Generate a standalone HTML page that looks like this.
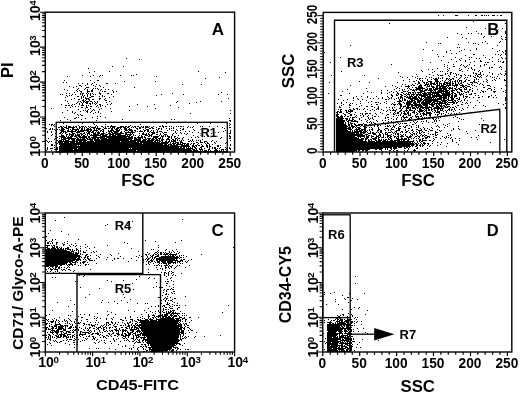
<!DOCTYPE html><html><head><meta charset="utf-8"><title>Flow cytometry</title><style>html,body{margin:0;padding:0;background:#fff}svg{display:block}</style></head><body><svg width="520" height="394" viewBox="0 0 520 394" font-family="'Liberation Sans', Arial, Helvetica, sans-serif" fill="#000" shape-rendering="auto"><path d="M438 15.5h1m4 0h1m11 0h3m10 0h1m6 0h2m4 0h2m1 0h1m1 0h1m1 0h1m3 0h3m2 0h1m2 0h2M477 20.5h1m13 0h1m13 0h1M473 21.5h1M389 23.5h1m115 0h1M493 25.5h1M466 27.5h1M485 28.5h1m16 0h1M498 29.5h1M476 31.5h1m28 0h1M505 32.5h1M457 33.5h1m10 0h1m2 0h1m6 0h1m2 0h1m23 0h1M461 34.5h1m19 0h1M484 36.5h1m6 0h1m9 0h1M447 37.5h1m14 0h1m20 0h1m21 0h1M466 38.5h1m34 0h1M502 39.5h1m2 0h1M485 41.5h1m14 0h1M426 42.5h1m41 0h1m13 0h1m16 0h1M438 43.5h1m1 0h1m32 0h1m1 0h1m11 0h1m18 0h1M458 44.5h1m19 0h1M350 45.5h1m146 0h1M457 47.5h1m1 0h1M476 48.5h1m15 0h1M423 49.5h1m40 0h1m11 0h1M432 50.5h1m17 0h1m10 0h1m8 0h1m28 0h1m5 0h1M446 51.5h1m12 0h1m37 0h1m4 0h1m2 0h1M324 52.5h1m121 0h1m56 0h1M451 53.5h1m4 0h1m48 0h1M437 54.5h1m35 0h2m20 0h1m2 0h1m2 0h1m3 0h1M465 55.5h1m17 0h1m16 0h1M438 56.5h1m4 0h1M340 57.5h1m114 0h1m13 0h1m1 0h1m13 0h1m6 0h1m8 0h1M126 58.5h1m334 0h1m14 0h1m2 0h1m22 0h1m2 0h1M139 59.5h1m311 0h1m7 0h1m9 0h1m19 0h1m8 0h1M422 60.5h1m18 0h1m18 0h1m4 0h1m14 0h1M456 61.5h1m8 0h1m8 0h1m5 0h2m10 0h1m5 0h1m1 0h1m2 0h1M330 62.5h1m99 0h1m17 0h1m21 0h1m14 0h1m1 0h2m13 0h2M506 63.5h1M391 64.5h1m52 0h1m8 0h1m7 0h1m7 0h1m14 0h1m1 0h1m7 0h1M447 65.5h1m12 0h1m2 0h1m3 0h1m6 0h1m5 0h1m3 0h1M112 66.5h1m10 0h1m320 0h1m8 0h2m9 0h1m1 0h1m13 0h1m19 0h1M447 67.5h1m17 0h1m5 0h1m17 0h1m1 0h2m6 0h1m1 0h1M88 68.5h1m348 0h1m11 0h1m9 0h1m8 0h1m2 0h1m17 0h1M428 69.5h1m3 0h1m14 0h1m13 0h1m10 0h1m1 0h1m26 0h1M421 70.5h1m26 0h1m10 0h2m6 0h1m6 0h1m4 0h1M94 71.5h1m14 0h1m88 0h1m142 0h1m80 0h1m11 0h1m5 0h1m1 0h1m4 0h1m14 0h1m15 0h1m3 0h1m22 0h1M89 72.5h1m135 0h1m172 0h1m33 0h1m17 0h2m21 0h1m6 0h1m8 0h1M445 73.5h1m1 0h1m2 0h1m2 0h1m1 0h1m17 0h1m1 0h2m3 0h1m11 0h1m7 0h1m4 0h2M136 74.5h1m279 0h1m12 0h1m7 0h1m7 0h1m4 0h1m5 0h1m1 0h1m5 0h1m11 0h1m1 0h3m2 0h1m8 0h1m5 0h1m2 0h1m3 0h1M82 75.5h1m10 0h1m6 0h1m1 0h1m17 0h1m10 0h1m1 0h1m197 0h1m32 0h1m68 0h1m4 0h1m1 0h3m5 0h1m7 0h1m3 0h2m3 0h1m2 0h1m1 0h1m4 0h1m1 0h1m3 0h1m5 0h1m16 0h1M67 76.5h1m22 0h1m8 0h1m56 0h1m243 0h1m11 0h1m4 0h1m8 0h1m22 0h1m4 0h1m6 0h1m8 0h1m2 0h1m3 0h2m1 0h1m5 0h1m3 0h1m6 0h1M219 77.5h1m182 0h1m4 0h1m7 0h1m13 0h1m1 0h1m6 0h1m3 0h1m13 0h1m3 0h1m4 0h1m1 0h1m6 0h2m3 0h1m1 0h1m10 0h1m1 0h1M205 78.5h1m172 0h1m38 0h1m1 0h2m1 0h1m2 0h1m7 0h1m1 0h2m1 0h1m1 0h1m1 0h1m3 0h2m1 0h1m2 0h2m5 0h1m4 0h1m11 0h1m19 0h1m2 0h1M409 79.5h1m9 0h1m7 0h1m3 0h1m2 0h4m8 0h1m1 0h1m1 0h2m1 0h1m4 0h1m7 0h1m7 0h1m1 0h1m1 0h1m7 0h1m7 0h1m9 0h1M64 80.5h1m25 0h1m6 0h2m304 0h1m12 0h1m3 0h1m1 0h1m4 0h1m7 0h3m4 0h1m2 0h1m3 0h2m4 0h1m1 0h1m1 0h3m3 0h1m2 0h2m4 0h1m12 0h1m4 0h1m2 0h1m8 0h2M124 81.5h1m30 0h1m203 0h1m49 0h1m3 0h2m3 0h1m3 0h1m5 0h4m3 0h4m1 0h1m3 0h1m3 0h1m1 0h1m1 0h1m1 0h2m1 0h1m1 0h1m1 0h1m2 0h2m7 0h2m3 0h1m4 0h1m2 0h1M63 82.5h1m2 0h1m27 0h1m234 0h1m39 0h1m27 0h1m20 0h2m3 0h2m1 0h2m2 0h2m2 0h1m1 0h2m1 0h1m4 0h4m1 0h2m1 0h1m2 0h1m2 0h1m2 0h1m1 0h1m6 0h3m1 0h3m10 0h1M78 83.5h1m3 0h1m4 0h1m4 0h1m13 0h2m7 0h1m299 0h1m2 0h2m4 0h1m1 0h1m1 0h1m1 0h5m1 0h2m1 0h3m1 0h2m1 0h5m1 0h2m1 0h1m2 0h1m1 0h2m5 0h1m4 0h1m4 0h1m2 0h1M87 84.5h1m3 0h1m4 0h1m85 0h1m18 0h1m200 0h1m2 0h1m6 0h1m4 0h1m2 0h1m4 0h4m1 0h2m1 0h3m1 0h1m1 0h1m1 0h1m1 0h3m1 0h1m1 0h2m1 0h1m2 0h3m1 0h1m2 0h1m5 0h2m1 0h1m7 0h1m2 0h1M79 85.5h2m4 0h1m7 0h1m5 0h1m250 0h1m41 0h1m15 0h1m2 0h1m1 0h2m4 0h3m2 0h2m1 0h1m1 0h1m1 0h1m4 0h4m1 0h3m2 0h5m1 0h6m2 0h4m1 0h2m5 0h1m1 0h1m8 0h1m3 0h3m15 0h1M69 86.5h1m6 0h1m4 0h1m13 0h1m4 0h1m284 0h1m9 0h1m5 0h1m3 0h5m8 0h4m5 0h3m1 0h3m2 0h2m1 0h8m1 0h1m5 0h1m1 0h1m5 0h3m2 0h3m6 0h1m13 0h1M73 87.5h1m12 0h3m14 0h1m30 0h1m262 0h1m10 0h1m3 0h1m2 0h2m1 0h5m3 0h1m5 0h3m1 0h2m1 0h2m1 0h4m1 0h1m1 0h2m1 0h1m3 0h1m3 0h2m1 0h1m1 0h2m3 0h1m12 0h2m9 0h1M78 88.5h1m6 0h1m7 0h1m1 0h1m1 0h1m268 0h1m29 0h1m2 0h1m7 0h1m1 0h1m6 0h9m2 0h1m1 0h3m1 0h1m1 0h12m1 0h5m1 0h2m2 0h2m4 0h1m1 0h1m5 0h1m15 0h3m10 0h1M64 89.5h1m12 0h1m6 0h1m2 0h1m4 0h1m5 0h1m2 0h1m3 0h1m2 0h1m238 0h1m46 0h1m7 0h1m1 0h1m5 0h2m1 0h1m1 0h6m1 0h1m2 0h3m1 0h3m1 0h5m1 0h3m1 0h4m2 0h1m2 0h1m2 0h3m1 0h3m2 0h3m2 0h2m6 0h1m9 0h1m3 0h1m2 0h1M67 90.5h1m8 0h1m2 0h1m7 0h1m3 0h2m7 0h1m11 0h1m268 0h1m5 0h1m11 0h1m2 0h1m5 0h1m3 0h3m1 0h1m2 0h4m1 0h3m1 0h5m1 0h2m2 0h6m1 0h4m2 0h4m1 0h1m3 0h2m7 0h1m2 0h1m8 0h1m9 0h1m13 0h1M77 91.5h1m2 0h2m5 0h3m1 0h2m9 0h1m1 0h2m7 0h1m2 0h1m225 0h1m24 0h1m23 0h1m4 0h1m6 0h3m1 0h1m6 0h1m5 0h5m5 0h2m1 0h1m1 0h1m1 0h11m1 0h1m1 0h2m4 0h1m3 0h2m1 0h1m2 0h2m3 0h1m9 0h2m1 0h1m7 0h3m7 0h1M74 92.5h1m6 0h1m5 0h1m11 0h1m13 0h1m107 0h1m149 0h1m9 0h1m7 0h1m3 0h1m3 0h1m3 0h2m5 0h3m1 0h2m1 0h1m1 0h5m2 0h2m1 0h15m1 0h1m1 0h5m2 0h2m3 0h3m5 0h2m1 0h1m11 0h1m2 0h1m10 0h1m10 0h1M66 93.5h1m2 0h1m10 0h1m1 0h2m2 0h1m1 0h1m1 0h1m1 0h1m6 0h2m6 0h2m63 0h1m155 0h1m20 0h1m13 0h1m17 0h1m5 0h1m9 0h2m4 0h1m2 0h1m1 0h1m1 0h1m2 0h1m1 0h1m2 0h1m1 0h1m1 0h5m1 0h3m1 0h7m2 0h9m1 0h2m1 0h2m3 0h1m1 0h1m1 0h1m7 0h1m2 0h2M60 94.5h1m1 0h1m9 0h1m2 0h1m4 0h1m1 0h1m4 0h1m2 0h1m2 0h1m1 0h1m4 0h1m10 0h1m49 0h1m21 0h1m34 0h1m8 0h1m163 0h1m4 0h1m1 0h1m1 0h2m2 0h2m1 0h3m1 0h4m1 0h6m1 0h10m1 0h1m1 0h4m2 0h9m1 0h1m2 0h2m2 0h4m3 0h1m2 0h3M66 95.5h1m2 0h1m1 0h1m10 0h1m1 0h1m2 0h1m2 0h1m11 0h1m53 0h1m183 0h2m49 0h2m3 0h2m3 0h2m3 0h1m2 0h1m1 0h1m1 0h1m2 0h2m1 0h9m1 0h2m1 0h18m1 0h2m1 0h3m3 0h1m2 0h1m11 0h1m2 0h1m12 0h1m3 0h1M67 96.5h1m9 0h2m2 0h1m1 0h1m3 0h1m3 0h3m5 0h1m2 0h1m1 0h1m8 0h1m242 0h1m4 0h1m5 0h1m8 0h1m10 0h1m4 0h1m7 0h2m2 0h2m1 0h1m1 0h4m1 0h3m1 0h1m2 0h5m1 0h4m1 0h10m1 0h4m1 0h2m1 0h2m1 0h3m6 0h1m1 0h3m14 0h1m5 0h2M65 97.5h1m15 0h1m1 0h1m1 0h1m3 0h2m18 0h1m243 0h1m13 0h1m14 0h1m5 0h1m2 0h1m6 0h1m1 0h3m3 0h5m1 0h5m1 0h2m1 0h1m2 0h11m1 0h1m2 0h8m1 0h1m1 0h3m1 0h1m4 0h1m3 0h1m2 0h1m2 0h1m3 0h1m4 0h2m8 0h1m4 0h1m2 0h1m8 0h1M74 98.5h1m6 0h1m3 0h4m10 0h2m4 0h1m122 0h1m124 0h1m3 0h1m12 0h1m2 0h1m4 0h1m3 0h1m6 0h1m1 0h1m4 0h1m1 0h1m1 0h1m1 0h1m1 0h1m3 0h10m1 0h3m1 0h1m1 0h7m1 0h1m1 0h1m1 0h5m1 0h4m1 0h1m2 0h3m2 0h2m1 0h1m5 0h1m39 0h1M71 99.5h1m6 0h2m3 0h1m2 0h1m1 0h2m2 0h2m5 0h1m4 0h1m233 0h1m8 0h1m10 0h1m3 0h1m22 0h2m1 0h1m5 0h1m4 0h1m2 0h1m1 0h2m4 0h3m1 0h5m1 0h3m1 0h18m1 0h2m2 0h2m2 0h3m4 0h2m4 0h1m40 0h1M65 100.5h1m16 0h2m1 0h1m3 0h1m15 0h2m236 0h1m9 0h1m12 0h1m32 0h2m1 0h1m1 0h2m1 0h1m1 0h1m1 0h4m2 0h5m1 0h15m3 0h6m1 0h5m1 0h2m1 0h1m3 0h1m2 0h1m2 0h1m9 0h1m27 0h1M67 101.5h1m10 0h1m1 0h1m2 0h2m1 0h3m1 0h2m2 0h1m2 0h1m11 0h1m67 0h1m22 0h1m20 0h1m138 0h1m10 0h1m14 0h1m10 0h5m5 0h6m1 0h2m1 0h4m1 0h2m1 0h7m1 0h8m1 0h4m1 0h1m4 0h2m1 0h1m2 0h1m1 0h1M77 102.5h1m3 0h1m1 0h1m1 0h3m4 0h1m2 0h1m1 0h1m8 0h1m69 0h1m19 0h1m144 0h1m4 0h1m21 0h1m6 0h2m1 0h1m5 0h1m9 0h1m4 0h1m3 0h1m2 0h6m1 0h3m1 0h3m1 0h10m1 0h3m2 0h1m1 0h4m1 0h3m1 0h7m1 0h2m4 0h1m3 0h1m3 0h1m8 0h1M68 103.5h1m7 0h1m2 0h1m2 0h1m3 0h2m1 0h2m1 0h1m1 0h1m1 0h1m14 0h1m77 0h1m147 0h1m3 0h1m8 0h1m1 0h1m7 0h1m19 0h1m5 0h1m5 0h1m5 0h3m3 0h1m1 0h5m2 0h4m2 0h1m1 0h9m1 0h2m1 0h12m1 0h1m5 0h2m1 0h1m8 0h1m1 0h1m30 0h1m6 0h1M61 104.5h1m10 0h1m1 0h1m4 0h1m2 0h1m7 0h1m4 0h1m3 0h2m6 0h1m2 0h1m26 0h1m16 0h1m188 0h1m5 0h1m6 0h1m14 0h1m4 0h2m13 0h1m1 0h3m1 0h1m1 0h3m4 0h7m1 0h7m1 0h6m1 0h6m1 0h1m1 0h2m1 0h1m3 0h5m2 0h1m8 0h2m40 0h1M65 105.5h2m1 0h2m1 0h1m9 0h3m2 0h1m1 0h1m8 0h1m2 0h1m1 0h1m67 0h1m170 0h1m7 0h2m10 0h1m32 0h1m5 0h2m3 0h1m1 0h3m1 0h11m1 0h5m3 0h3m2 0h2m1 0h3m1 0h2m1 0h1m10 0h2m9 0h1m6 0h1m7 0h1M72 106.5h1m2 0h1m2 0h1m7 0h1m3 0h2m4 0h1m3 0h1m4 0h1m23 0h1m17 0h1m191 0h1m19 0h1m6 0h2m3 0h2m5 0h1m21 0h2m1 0h3m1 0h2m2 0h2m2 0h2m1 0h5m2 0h3m1 0h1m2 0h2m2 0h3m1 0h3m1 0h2m1 0h3m5 0h1m29 0h1M65 107.5h1m4 0h1m10 0h2m3 0h2m10 0h1m79 0h1m160 0h2m8 0h1m24 0h1m3 0h1m7 0h1m2 0h1m2 0h1m1 0h1m5 0h1m2 0h1m2 0h5m1 0h3m1 0h3m1 0h12m2 0h6m1 0h1m1 0h1m1 0h3m2 0h1m1 0h2m2 0h1m10 0h1m5 0h1m31 0h1M51 108.5h1m33 0h1m4 0h1m10 0h1m8 0h1m44 0h1m197 0h1m2 0h2m6 0h1m12 0h2m13 0h1m6 0h2m1 0h1m3 0h3m1 0h1m1 0h4m1 0h1m1 0h2m1 0h2m1 0h4m2 0h1m1 0h11m5 0h1m4 0h1m7 0h1m42 0h1M78 109.5h1m9 0h1m4 0h1m5 0h1m238 0h1m1 0h2m7 0h2m2 0h2m2 0h1m1 0h1m3 0h1m3 0h1m4 0h1m3 0h1m1 0h1m2 0h1m7 0h1m3 0h1m2 0h1m4 0h1m4 0h1m2 0h2m4 0h1m3 0h3m2 0h1m1 0h1m1 0h2m1 0h2m1 0h1m2 0h2m1 0h1m1 0h1m5 0h2m1 0h2m1 0h1m4 0h1m3 0h1M67 110.5h1m15 0h1m1 0h1m1 0h1m4 0h1m1 0h1m34 0h1m100 0h1m109 0h1m4 0h2m1 0h1m1 0h3m17 0h1m3 0h1m8 0h1m3 0h1m2 0h1m1 0h4m4 0h2m3 0h3m1 0h4m1 0h1m2 0h1m1 0h5m1 0h2m1 0h2m1 0h1m2 0h2m1 0h1m2 0h3m2 0h1m1 0h1m1 0h1m1 0h1m3 0h1m5 0h1m24 0h1M72 111.5h1m7 0h1m5 0h2m3 0h1m6 0h1m12 0h1m225 0h2m1 0h2m4 0h1m1 0h5m12 0h1m20 0h1m8 0h1m3 0h2m2 0h2m1 0h1m1 0h1m4 0h2m3 0h5m1 0h1m1 0h1m5 0h1m2 0h1m1 0h3m3 0h1m2 0h1m6 0h1M62 112.5h1m9 0h1m2 0h1m11 0h1m2 0h1m4 0h1m2 0h1m237 0h2m1 0h3m4 0h2m2 0h1m4 0h1m24 0h1m9 0h1m3 0h1m2 0h2m2 0h1m2 0h1m2 0h2m3 0h3m1 0h1m2 0h1m3 0h1m2 0h5m3 0h1m1 0h4m6 0h1m12 0h1m10 0h1M74 113.5h1m18 0h1m6 0h1m89 0h1m39 0h1m106 0h1m5 0h1m4 0h2m10 0h1m1 0h1m2 0h3m1 0h2m4 0h1m6 0h1m10 0h1m1 0h1m1 0h2m2 0h1m1 0h3m1 0h2m1 0h1m3 0h1m2 0h1m2 0h1m1 0h3m1 0h6m7 0h1m1 0h1m1 0h1m4 0h1m2 0h1m2 0h1m1 0h1M77 114.5h1m2 0h1m255 0h3m5 0h2m4 0h2m2 0h1m7 0h1m2 0h1m10 0h1m10 0h2m4 0h2m5 0h1m3 0h3m1 0h1m1 0h1m5 0h2m2 0h1m2 0h4m2 0h2m4 0h1m1 0h2m2 0h1m3 0h1m4 0h1m10 0h1M78 115.5h1m2 0h2m253 0h2m3 0h1m3 0h1m4 0h2m4 0h1m3 0h1m2 0h1m4 0h1m3 0h1m13 0h1m9 0h1m1 0h1m1 0h1m2 0h1m4 0h3m4 0h1m5 0h1m1 0h1m2 0h1m2 0h2m6 0h1m8 0h1m1 0h1M97 116.5h1m2 0h1m235 0h3m1 0h3m1 0h1m2 0h2m6 0h1m7 0h1m3 0h1m6 0h2m2 0h1m14 0h1m8 0h2m2 0h1m5 0h1m2 0h4m1 0h2m8 0h1m13 0h1m10 0h1M64 117.5h1m11 0h1m1 0h1m13 0h1m12 0h1m231 0h6m7 0h1m1 0h3m1 0h1m4 0h1m6 0h1m3 0h1m12 0h1m1 0h2m8 0h1m3 0h1m1 0h5m2 0h2m4 0h1m1 0h1m3 0h1m1 0h1m1 0h1m1 0h2m1 0h1m8 0h1m12 0h1m3 0h1M74 118.5h2m9 0h1m11 0h1m131 0h1m106 0h8m1 0h3m1 0h1m2 0h1m6 0h1m8 0h1m1 0h1m1 0h1m12 0h1m5 0h1m4 0h1m4 0h1m2 0h1m4 0h1m1 0h1m5 0h3m1 0h1m7 0h1m2 0h2m2 0h1m1 0h1m20 0h1m21 0h1M67 119.5h1m13 0h1m40 0h1m48 0h1m2 0h1m161 0h7m3 0h2m1 0h1m2 0h2m5 0h1m5 0h1m3 0h1m3 0h1m14 0h1m4 0h1m2 0h1m4 0h1m1 0h1m1 0h1m2 0h3m4 0h1m2 0h1m2 0h2m10 0h1m1 0h1m25 0h1m1 0h1M60 120.5h1m9 0h1m25 0h1m132 0h2m105 0h9m1 0h1m1 0h5m1 0h2m5 0h1m5 0h1m8 0h1m5 0h1m2 0h1m16 0h1m5 0h1m2 0h1m3 0h1m10 0h1m7 0h1m1 0h1m2 0h1m43 0h1M230 121.5h1m105 0h9m2 0h2m2 0h7m8 0h1m3 0h1m6 0h1m10 0h1m2 0h1m4 0h1m1 0h1m4 0h1m9 0h1m3 0h1m3 0h1m1 0h1m2 0h1m7 0h1m1 0h1m21 0h1M65 122.5h1m6 0h1m263 0h8m1 0h1m2 0h1m1 0h1m6 0h1m9 0h1m1 0h1m1 0h1m1 0h1m9 0h1m9 0h1m1 0h1m1 0h1m12 0h1m3 0h1m1 0h1m11 0h1m3 0h1M63 123.5h1m18 0h1m10 0h1m72 0h1m30 0h1m12 0h1m18 0h1m106 0h8m1 0h1m2 0h1m1 0h3m1 0h1m8 0h1m7 0h1m2 0h2m5 0h2m4 0h2m4 0h1m4 0h1m1 0h1m1 0h1m1 0h3m8 0h1m6 0h1m12 0h1m13 0h1M49 124.5h1m1 0h2m1 0h1m39 0h1m10 0h1m34 0h1m86 0h1m2 0h1m105 0h10m2 0h2m1 0h1m2 0h2m2 0h5m1 0h3m2 0h2m1 0h1m1 0h1m10 0h1m10 0h1m2 0h1m12 0h2m29 0h1m3 0h1m31 0h1M51 125.5h1m1 0h1m12 0h1m11 0h1m17 0h1m14 0h1m18 0h1m31 0h1m66 0h1m106 0h11m1 0h2m1 0h2m2 0h5m1 0h2m1 0h1m3 0h1m2 0h1m2 0h1m2 0h2m1 0h1m6 0h1m1 0h1m3 0h1m1 0h1m10 0h2m1 0h1m6 0h1m1 0h1m18 0h1m7 0h1M54 126.5h1m5 0h2m1 0h1m2 0h1m1 0h3m2 0h1m1 0h2m2 0h1m1 0h3m1 0h1m2 0h1m1 0h1m4 0h1m1 0h1m3 0h2m2 0h1m1 0h2m1 0h6m4 0h4m1 0h2m1 0h2m2 0h1m1 0h2m1 0h2m2 0h1m1 0h1m1 0h3m1 0h1m3 0h1m5 0h2m1 0h2m1 0h2m2 0h1m1 0h1m4 0h1m1 0h1m1 0h2m1 0h1m4 0h1m4 0h1m6 0h1m1 0h1m6 0h1m7 0h1m118 0h12m1 0h1m1 0h4m1 0h1m3 0h1m2 0h3m8 0h1m2 0h1m7 0h1m1 0h2m1 0h1m2 0h2m4 0h2m2 0h1m1 0h1m5 0h1m6 0h1m17 0h1m1 0h1m8 0h1m10 0h1M58 127.5h2m1 0h2m1 0h3m1 0h7m1 0h1m2 0h2m1 0h1m1 0h1m1 0h1m2 0h1m1 0h5m1 0h1m5 0h1m1 0h1m4 0h1m1 0h3m2 0h5m1 0h3m1 0h2m2 0h1m1 0h1m1 0h1m3 0h2m1 0h2m1 0h4m2 0h2m3 0h1m6 0h1m9 0h1m13 0h1m2 0h1m1 0h1m9 0h1m19 0h1m6 0h2m105 0h11m1 0h3m1 0h2m1 0h1m1 0h3m4 0h3m2 0h1m1 0h1m6 0h1m13 0h1m1 0h1m3 0h1m5 0h2m5 0h1m4 0h1m1 0h1m4 0h1m7 0h1m7 0h1m4 0h1M46 128.5h1m3 0h1m1 0h1m3 0h1m4 0h3m2 0h3m3 0h2m3 0h1m1 0h1m1 0h2m1 0h1m2 0h2m1 0h1m2 0h2m1 0h5m3 0h3m1 0h2m1 0h2m1 0h1m1 0h3m1 0h1m3 0h3m2 0h1m6 0h2m1 0h2m4 0h1m3 0h2m1 0h2m4 0h2m1 0h1m4 0h1m2 0h1m1 0h1m1 0h1m6 0h1m2 0h1m40 0h1m111 0h15m1 0h1m3 0h1m1 0h3m3 0h2m6 0h1m5 0h1m6 0h3m3 0h1m4 0h1m1 0h3m7 0h2m10 0h1m3 0h1m2 0h1m4 0h1m20 0h1m4 0h1M49 129.5h2m1 0h1m1 0h1m2 0h1m1 0h1m1 0h4m3 0h1m1 0h1m1 0h7m2 0h2m1 0h1m1 0h6m2 0h1m1 0h1m1 0h2m2 0h2m7 0h2m2 0h3m1 0h1m1 0h1m2 0h3m1 0h4m5 0h1m5 0h1m2 0h3m7 0h1m1 0h1m2 0h1m7 0h1m6 0h1m5 0h2m9 0h1m6 0h1m9 0h1m125 0h11m1 0h4m3 0h5m1 0h5m3 0h1m1 0h2m5 0h2m4 0h1m3 0h1m2 0h3m4 0h2m5 0h1m6 0h1m3 0h2m3 0h1m2 0h1m4 0h1m7 0h1m15 0h1m5 0h1M55 130.5h1m4 0h4m3 0h2m2 0h2m2 0h2m1 0h1m1 0h9m1 0h2m1 0h5m2 0h2m1 0h1m4 0h1m1 0h4m2 0h4m5 0h3m1 0h4m1 0h2m4 0h1m3 0h2m1 0h2m2 0h1m1 0h1m3 0h1m9 0h1m3 0h1m1 0h1m3 0h1m2 0h1m13 0h1m11 0h1m2 0h1m4 0h1m10 0h1m4 0h1m105 0h12m2 0h1m1 0h1m1 0h1m1 0h2m1 0h4m1 0h2m1 0h1m1 0h1m2 0h1m4 0h2m1 0h2m3 0h1m2 0h1m1 0h1m5 0h4m5 0h1m2 0h1m2 0h2m5 0h4m3 0h2m3 0h3m6 0h1m1 0h1m9 0h1m23 0h1M47 131.5h1m3 0h1m4 0h1m4 0h5m1 0h9m1 0h7m3 0h4m1 0h2m2 0h1m1 0h1m1 0h1m1 0h2m4 0h4m1 0h6m2 0h1m2 0h1m3 0h1m2 0h2m2 0h1m1 0h1m1 0h4m1 0h1m2 0h2m1 0h1m2 0h1m3 0h1m1 0h3m13 0h1m9 0h1m3 0h1m24 0h1m8 0h1m6 0h1m105 0h15m1 0h1m1 0h8m1 0h4m3 0h1m6 0h1m2 0h2m9 0h1m3 0h2m4 0h2m3 0h2m5 0h1m2 0h1m2 0h1m2 0h1m5 0h1m6 0h1m4 0h1m25 0h1M47 132.5h1m3 0h1m8 0h2m1 0h1m1 0h2m4 0h2m3 0h4m4 0h1m1 0h1m1 0h2m1 0h3m1 0h1m1 0h3m3 0h1m2 0h1m2 0h1m1 0h2m1 0h4m2 0h2m3 0h10m8 0h1m5 0h1m1 0h4m1 0h2m4 0h1m1 0h3m8 0h1m4 0h1m11 0h1m5 0h1m7 0h1m8 0h1m2 0h1m11 0h1m105 0h23m1 0h6m1 0h1m2 0h1m1 0h2m2 0h1m1 0h1m1 0h2m3 0h2m1 0h3m1 0h1m1 0h1m1 0h1m3 0h1m1 0h1m2 0h2m2 0h1m2 0h1m4 0h1m1 0h1m1 0h1m1 0h2m10 0h3M55 133.5h2m2 0h2m1 0h1m2 0h1m3 0h1m2 0h3m2 0h1m2 0h2m1 0h2m2 0h3m3 0h3m1 0h3m1 0h4m3 0h3m1 0h12m1 0h2m3 0h1m1 0h1m6 0h1m2 0h2m2 0h1m1 0h1m3 0h3m5 0h1m2 0h1m9 0h1m2 0h1m4 0h1m2 0h1m2 0h1m12 0h1m10 0h1m2 0h1m14 0h2m105 0h19m1 0h3m1 0h2m1 0h2m3 0h3m1 0h4m3 0h1m2 0h1m2 0h1m1 0h1m5 0h1m1 0h1m1 0h2m11 0h1m2 0h2m1 0h1m2 0h2m7 0h1m6 0h1m11 0h1m19 0h1M52 134.5h1m8 0h1m4 0h2m1 0h5m1 0h1m1 0h3m1 0h2m2 0h1m1 0h1m1 0h1m1 0h1m1 0h6m1 0h4m1 0h3m1 0h5m1 0h6m4 0h7m1 0h1m8 0h5m1 0h2m1 0h2m3 0h2m2 0h1m3 0h3m5 0h1m13 0h1m149 0h27m2 0h3m5 0h3m3 0h2m2 0h1m1 0h3m3 0h1m3 0h1m1 0h2m1 0h1m2 0h1m1 0h1m5 0h2m1 0h1m1 0h1m4 0h1m2 0h1m5 0h1m1 0h2m1 0h1m1 0h1m12 0h1M51 135.5h1m9 0h3m2 0h1m2 0h1m1 0h3m1 0h5m1 0h1m1 0h2m2 0h1m2 0h11m1 0h5m2 0h2m1 0h4m1 0h9m1 0h1m1 0h2m2 0h1m1 0h1m3 0h1m1 0h1m3 0h3m1 0h3m7 0h1m1 0h1m1 0h1m1 0h1m1 0h1m4 0h1m5 0h1m14 0h1m6 0h2m8 0h1m5 0h1m12 0h1m106 0h29m1 0h1m1 0h2m1 0h1m4 0h1m1 0h3m2 0h1m3 0h4m2 0h1m4 0h1m2 0h2m2 0h1m4 0h1m1 0h1m4 0h1m2 0h1m1 0h2m1 0h2m8 0h2m11 0h1m1 0h1m27 0h1M55 136.5h1m3 0h6m1 0h1m1 0h1m1 0h3m1 0h3m1 0h3m1 0h5m1 0h2m3 0h4m3 0h30m1 0h2m5 0h1m2 0h2m1 0h1m3 0h2m1 0h1m1 0h6m2 0h3m1 0h1m1 0h3m1 0h1m2 0h2m21 0h1m5 0h2m4 0h1m7 0h1m11 0h2m105 0h19m2 0h8m1 0h3m2 0h3m2 0h3m1 0h1m2 0h1m3 0h2m1 0h2m2 0h2m1 0h2m1 0h4m2 0h2m1 0h3m3 0h2m1 0h2m2 0h1m1 0h1m2 0h3m3 0h1m8 0h1m3 0h1M57 137.5h1m3 0h5m1 0h5m4 0h2m1 0h8m1 0h2m1 0h14m1 0h21m1 0h5m1 0h2m1 0h6m1 0h2m7 0h5m2 0h1m1 0h1m5 0h2m1 0h1m2 0h1m2 0h1m5 0h1m7 0h1m3 0h1m2 0h1m3 0h1m7 0h1m10 0h1m8 0h1m105 0h21m1 0h1m1 0h1m3 0h1m1 0h3m2 0h1m3 0h2m1 0h2m1 0h3m1 0h1m1 0h1m1 0h2m3 0h1m1 0h1m1 0h1m2 0h1m5 0h4m3 0h1m4 0h1m5 0h3m1 0h1m5 0h2m7 0h1m1 0h1m1 0h1m2 0h1m19 0h1m4 0h1M48 138.5h1m6 0h1m3 0h1m1 0h1m1 0h13m1 0h2m1 0h1m1 0h3m1 0h2m1 0h2m1 0h4m1 0h2m1 0h7m1 0h25m1 0h3m1 0h3m1 0h1m2 0h1m1 0h4m1 0h2m1 0h2m1 0h3m1 0h1m4 0h2m2 0h1m3 0h2m1 0h2m2 0h1m37 0h1m8 0h2m105 0h23m2 0h3m1 0h3m4 0h5m1 0h1m9 0h1m1 0h2m4 0h3m2 0h2m1 0h3m1 0h1m2 0h1m1 0h1m2 0h1m1 0h1m3 0h2m1 0h2m6 0h1m6 0h1m4 0h1m4 0h1m4 0h1m3 0h1M54 139.5h1m6 0h5m2 0h2m1 0h4m1 0h10m1 0h6m1 0h6m1 0h31m2 0h7m2 0h4m1 0h2m1 0h4m1 0h2m1 0h1m1 0h3m2 0h4m2 0h2m1 0h1m1 0h1m4 0h1m5 0h1m3 0h1m9 0h1m133 0h28m1 0h2m1 0h1m1 0h2m1 0h3m2 0h2m1 0h1m1 0h1m1 0h2m1 0h2m1 0h1m5 0h10m1 0h2m9 0h2m1 0h1m11 0h1m17 0h1m24 0h1m26 0h1M46 140.5h1m10 0h1m1 0h3m1 0h1m1 0h4m3 0h3m1 0h11m3 0h3m1 0h35m1 0h11m1 0h4m1 0h7m1 0h5m1 0h2m3 0h1m2 0h1m1 0h1m1 0h3m1 0h1m1 0h1m1 0h1m1 0h1m6 0h1m1 0h1m3 0h1m1 0h1m1 0h1m11 0h1m17 0h1m105 0h27m2 0h1m2 0h2m1 0h1m3 0h2m1 0h4m1 0h3m1 0h1m2 0h3m1 0h6m1 0h1m1 0h2m2 0h2m4 0h1m2 0h1m2 0h2m1 0h5m2 0h2m2 0h1m18 0h1m6 0h1M47 141.5h1m1 0h1m1 0h1m6 0h20m1 0h3m1 0h3m1 0h7m1 0h25m1 0h15m1 0h16m1 0h2m1 0h1m1 0h2m1 0h1m2 0h2m1 0h2m1 0h5m4 0h2m6 0h2m1 0h1m1 0h1m6 0h1m3 0h3m4 0h1m4 0h1m119 0h31m1 0h7m1 0h5m1 0h14m1 0h17m3 0h1m1 0h1m1 0h2m9 0h1m19 0h1M48 142.5h1m6 0h1m2 0h5m1 0h5m1 0h5m1 0h63m1 0h20m1 0h8m1 0h1m2 0h1m1 0h4m1 0h3m13 0h2m2 0h3m1 0h1m2 0h1m6 0h1m11 0h1m109 0h75m1 0h1m1 0h1m2 0h1m2 0h1m2 0h2m12 0h1m3 0h1m14 0h1m33 0h1M57 143.5h1m1 0h83m1 0h25m2 0h1m1 0h4m1 0h2m1 0h1m1 0h4m1 0h2m2 0h1m1 0h2m3 0h1m6 0h1m1 0h2m6 0h1m9 0h1m110 0h78m1 0h2m1 0h1m2 0h1m1 0h3m1 0h2m3 0h1m14 0h1M51 144.5h2m3 0h1m2 0h104m1 0h3m1 0h4m1 0h2m1 0h7m1 0h1m1 0h3m1 0h1m2 0h1m3 0h1m3 0h1m4 0h1m2 0h1m2 0h1m17 0h1m105 0h79m1 0h2m2 0h1m1 0h1m1 0h1m3 0h1m11 0h1m17 0h1M51 145.5h2m1 0h1m5 0h17m1 0h1m1 0h89m1 0h8m3 0h8m3 0h2m1 0h2m1 0h2m2 0h1m3 0h2m1 0h1m7 0h2m1 0h1m9 0h1m105 0h74m1 0h3m2 0h2m1 0h2m1 0h2m3 0h1m2 0h1m6 0h1M59 146.5h131m2 0h3m1 0h1m4 0h3m2 0h2m1 0h2m6 0h2m117 0h75m1 0h1m2 0h2m3 0h1m1 0h1m6 0h1m16 0h1M47 147.5h1m6 0h1m2 0h1m1 0h120m1 0h2m1 0h2m1 0h1m1 0h1m1 0h1m1 0h1m1 0h2m4 0h2m5 0h1m1 0h1m2 0h1m1 0h2m4 0h1m4 0h1m3 0h1m106 0h56m1 0h4m1 0h4m2 0h1m1 0h2m1 0h1m7 0h1M47 148.5h1m2 0h3m3 0h2m1 0h18m1 0h51m1 0h1m1 0h53m1 0h7m2 0h2m2 0h1m1 0h1m2 0h1m4 0h1m2 0h1m1 0h2m1 0h1m1 0h1m6 0h1m2 0h2m105 0h47m2 0h1m1 0h1m2 0h2m1 0h4m7 0h2m2 0h1m7 0h2m9 0h1M47 149.5h1m6 0h4m1 0h14m1 0h117m1 0h3m1 0h1m2 0h4m5 0h2m5 0h2m4 0h3m1 0h1m1 0h1m2 0h1m105 0h34m5 0h2m2 0h3m3 0h1m1 0h1m3 0h1m2 0h1m13 0h1m5 0h1m10 0h1M46 150.5h1m4 0h1m7 0h77m1 0h55m1 0h5m2 0h1m1 0h1m1 0h3m1 0h1m1 0h1m3 0h4m1 0h1m1 0h1m1 0h1m2 0h1m109 0h21m1 0h2m2 0h2m1 0h3m13 0h1m7 0h2m2 0h1m2 0h2m6 0h1m2 0h1m5 0h3M59 151.5h143m1 0h5m2 0h4m1 0h3m1 0h2m1 0h1m1 0h2m110 0h19m1 0h1m1 0h1m7 0h1m9 0h1m5 0h1m11 0h1m3 0h1m8 0h1m6 0h1m12 0h1m1 0h1M64 217.5h1M182 219.5h1M55 220.5h1M132 221.5h1M107 224.5h1M105 225.5h1m21 0h1M50 230.5h1M61 231.5h1M48 233.5h1M68 234.5h1M46 236.5h1M52 239.5h1m2 0h1m22 0h1M46 240.5h1m5 0h1m92 0h1m35 0h1M49 241.5h1m1 0h1m15 0h1m87 0h1M47 242.5h2m3 0h1m3 0h2m6 0h1m59 0h1m50 0h1M47 243.5h2m1 0h1m1 0h1m3 0h1m5 0h1m4 0h1m7 0h1m51 0h1M56 244.5h1m6 0h2m6 0h1m13 0h1M46 245.5h4m1 0h1m1 0h2m8 0h1m5 0h1m3 0h1m2 0h1m30 0h1m50 0h1M47 246.5h1m4 0h1m1 0h1m1 0h2m12 0h1m4 0h1m4 0h1m6 0h1M46 247.5h2m4 0h3m1 0h2m1 0h1m1 0h1m5 0h2m16 0h1m8 0h1m63 0h1m74 0h1M47 248.5h3m1 0h5m1 0h2m1 0h2m1 0h1m1 0h4m7 0h1m3 0h1m8 0h1m41 0h1M46 249.5h18m1 0h1m1 0h4m1 0h1m3 0h2m73 0h1m1 0h1m12 0h1m9 0h1M46 250.5h21m3 0h1m1 0h1m1 0h1m1 0h1m1 0h1m1 0h1m5 0h1m71 0h1m6 0h1m6 0h1M46 251.5h24m1 0h3m4 0h1m1 0h1m2 0h1m9 0h1m2 0h1m41 0h1m18 0h1m11 0h1m3 0h1m3 0h1M46 252.5h26m1 0h1m1 0h2m1 0h1m4 0h3m5 0h1m2 0h1m52 0h1m7 0h2m1 0h1m1 0h2m1 0h1m1 0h1m3 0h1m1 0h1m2 0h1m4 0h1M46 253.5h28m1 0h4m1 0h1m37 0h1m30 0h1m4 0h1m2 0h1m2 0h2m2 0h1m1 0h3m1 0h1m5 0h1m1 0h1M46 254.5h32m2 0h1m1 0h1m3 0h2m12 0h1m9 0h1m31 0h1m2 0h2m1 0h1m4 0h1m1 0h2m1 0h1m1 0h2m1 0h5m1 0h8m24 0h1M46 255.5h34m5 0h2m3 0h1m5 0h1m14 0h1m27 0h1m6 0h1m3 0h1m1 0h2m3 0h2m6 0h1m2 0h1m1 0h1m1 0h2m1 0h1m3 0h1m1 0h1m1 0h1M46 256.5h35m4 0h1m1 0h2m9 0h1m21 0h1m15 0h1m4 0h1m5 0h1m3 0h2m2 0h4m2 0h14m1 0h2m1 0h1m6 0h1M46 257.5h31m1 0h2m1 0h1m2 0h2m1 0h1m11 0h1m7 0h1m30 0h1m8 0h1m2 0h1m1 0h1m1 0h2m3 0h20m1 0h2m1 0h1M46 258.5h30m1 0h3m4 0h1m2 0h2m1 0h1m5 0h1m17 0h1m2 0h2m4 0h1m7 0h1m14 0h1m1 0h2m2 0h1m1 0h1m1 0h22m1 0h1M46 259.5h35m2 0h1m1 0h1m2 0h2m16 0h1m7 0h1m28 0h1m1 0h1m1 0h2m2 0h1m1 0h1m2 0h19m1 0h1m4 0h1m1 0h2m6 0h1M46 260.5h29m1 0h3m1 0h1m5 0h1m2 0h4m1 0h1m17 0h1m23 0h1m6 0h1m3 0h1m2 0h3m3 0h2m1 0h19m2 0h3m5 0h1M46 261.5h27m2 0h2m6 0h3m42 0h1m13 0h1m3 0h1m1 0h2m1 0h2m1 0h1m2 0h3m1 0h5m1 0h6m2 0h1m1 0h4m1 0h1m2 0h1m1 0h1M46 262.5h22m1 0h2m1 0h4m1 0h1m2 0h1m1 0h3m2 0h1m55 0h1m4 0h1m1 0h1m4 0h1m1 0h3m2 0h4m1 0h9m1 0h1m1 0h1m6 0h1M46 263.5h21m3 0h2m3 0h1m4 0h1m2 0h1m12 0h1m51 0h1m4 0h1m5 0h1m1 0h1m1 0h4m1 0h3m2 0h1m1 0h1m4 0h1m1 0h1M46 264.5h19m1 0h1m1 0h5m1 0h2m9 0h2m1 0h1m57 0h1m2 0h1m8 0h1m7 0h1m1 0h1M46 265.5h12m2 0h2m5 0h1m1 0h1m2 0h1m5 0h1m1 0h1m4 0h1m68 0h1m1 0h2m1 0h1m1 0h1m2 0h4m1 0h1m2 0h1m4 0h1m1 0h1m9 0h1M46 266.5h3m1 0h4m1 0h3m1 0h1m8 0h1m92 0h1m3 0h1m2 0h1m1 0h2m4 0h1M49 267.5h1m2 0h1m2 0h2m1 0h2m1 0h1m2 0h1m2 0h1m1 0h1m86 0h1m8 0h2m1 0h1m2 0h1m3 0h1m9 0h1M48 268.5h1m1 0h1m2 0h1m1 0h1m2 0h2m6 0h1m93 0h1m1 0h1m2 0h1m3 0h1m4 0h1M46 269.5h1m3 0h3m1 0h4m3 0h1m1 0h2m3 0h2m20 0h1m57 0h1m8 0h1m4 0h1M51 270.5h1m5 0h1m4 0h1m2 0h1m4 0h1m3 0h1m90 0h1M47 271.5h1m2 0h1m4 0h1m1 0h1m15 0h1m95 0h1m1 0h1M53 272.5h1m5 0h1m88 0h1m12 0h1m2 0h2m2 0h1m3 0h2M56 273.5h1m107 0h1m1 0h1m1 0h1m2 0h1m9 0h1M160 274.5h1m3 0h1m3 0h1m4 0h1M79 275.5h1m4 0h1m79 0h1m3 0h1m3 0h1m2 0h1M83 276.5h1m55 0h1m26 0h1m188 0h1M52 277.5h1m2 0h1m93 0h1m21 0h1M148 278.5h1m5 0h1m15 0h1M136 279.5h1m30 0h1M107 280.5h1m15 0h1m47 0h1M75 281.5h1m35 0h1m53 0h1m1 0h2m4 0h1M156 282.5h1M132 283.5h1m33 0h2m187 0h1M123 284.5h1m49 0h1M166 285.5h1M127 286.5h1m28 0h1m3 0h1m8 0h1M80 287.5h1m72 0h1m5 0h1m1 0h2m10 0h1M99 288.5h1m21 0h1m49 0h1M133 289.5h1m30 0h1m2 0h2m1 0h1m1 0h2M160 290.5h1m2 0h1m2 0h1M166 291.5h1m6 0h2M163 292.5h1m7 0h1m152 0h1m9 0h1M166 293.5h1m5 0h1m1 0h1m155 0h1m18 0h1m14 0h1M89 294.5h1m33 0h1m41 0h2m1 0h1m155 0h1M162 295.5h1m179 0h1M167 296.5h1m17 0h1m137 0h1M85 297.5h1m38 0h1m33 0h2m5 0h1m4 0h1m176 0h2M164 298.5h1m1 0h2m6 0h2m168 0h1m7 0h1M130 299.5h1m32 0h1m2 0h1m5 0h1m162 0h1m9 0h1m11 0h1M70 300.5h1m31 0h1m18 0h1m39 0h1m3 0h1m2 0h1m1 0h2m179 0h1M114 301.5h1m50 0h1m6 0h1m162 0h1M57 302.5h1m43 0h1m6 0h1m18 0h1m39 0h1m6 0h1m173 0h1M117 303.5h1m19 0h1m7 0h1m1 0h1m13 0h1m5 0h1m1 0h1m7 0h1M74 304.5h1m91 0h3m3 0h1m153 0h1m11 0h1M158 305.5h1m4 0h2m4 0h1m4 0h1m1 0h2m1 0h1m5 0h1m42 0h1m121 0h1M68 306.5h1m82 0h1m3 0h1m2 0h1m3 0h1m1 0h1m5 0h1m1 0h1M165 307.5h2m2 0h1m8 0h2m170 0h1m3 0h1m4 0h1M148 308.5h1m14 0h1m6 0h3m4 0h1m180 0h1M163 309.5h1m1 0h2m1 0h1m8 0h1m164 0h1m8 0h1M52 310.5h1m75 0h1m15 0h1m13 0h1m4 0h1m6 0h1m1 0h3m192 0h1M72 311.5h1m34 0h1m26 0h1m15 0h1m4 0h1m2 0h1m3 0h1m3 0h1m1 0h1m1 0h2m1 0h1m6 0h1M111 312.5h1m34 0h1m5 0h1m6 0h2m2 0h2m1 0h1m1 0h3m1 0h2m1 0h1m46 0h1M97 313.5h1m57 0h1m10 0h4m1 0h9m2 0h1m1 0h1m163 0h1M49 314.5h1m30 0h1m3 0h1m4 0h1m18 0h1m6 0h1m25 0h1m6 0h1m4 0h1m8 0h1m1 0h4m2 0h2m1 0h1m3 0h1m164 0h2m7 0h1m13 0h1M46 315.5h1m21 0h1m1 0h1m18 0h1m17 0h1m40 0h1m3 0h3m3 0h5m1 0h4m2 0h3m1 0h3m1 0h1m3 0h1m1 0h1m1 0h1m150 0h1m2 0h1m2 0h1m8 0h1M78 316.5h1m15 0h1m35 0h1m11 0h1m5 0h2m4 0h1m1 0h4m2 0h5m1 0h2m1 0h1m1 0h4m2 0h1m158 0h2m7 0h1m4 0h1M59 317.5h1m21 0h2m14 0h1m15 0h1m11 0h1m4 0h1m6 0h1m2 0h1m7 0h1m3 0h2m1 0h1m2 0h1m1 0h1m1 0h2m1 0h6m1 0h2m5 0h3m2 0h1m4 0h2m7 0h1m124 0h1m1 0h1m5 0h1m1 0h1m10 0h1m2 0h1m1 0h1m5 0h1m1 0h1M54 318.5h1m13 0h1m25 0h1m1 0h1m3 0h1m5 0h1m4 0h1m13 0h1m16 0h1m1 0h1m3 0h1m1 0h1m2 0h1m2 0h1m3 0h14m1 0h5m2 0h3m151 0h2m1 0h2m6 0h1m6 0h1M46 319.5h1m1 0h1m3 0h1m3 0h1m7 0h1m4 0h1m5 0h1m1 0h1m8 0h2m18 0h1m5 0h1m7 0h2m8 0h3m4 0h2m1 0h1m4 0h3m1 0h4m3 0h4m1 0h14m1 0h3m1 0h1m1 0h1m2 0h2m141 0h1m6 0h1m1 0h2m1 0h3m1 0h1m2 0h5m4 0h1M47 320.5h1m5 0h1m2 0h1m1 0h1m5 0h1m1 0h1m3 0h1m5 0h1m4 0h1m14 0h1m25 0h2m2 0h1m5 0h1m1 0h1m3 0h11m1 0h7m1 0h23m4 0h1m5 0h1m132 0h1m6 0h1m1 0h2m2 0h1m1 0h4m2 0h5M48 321.5h1m1 0h4m1 0h1m3 0h1m2 0h1m2 0h1m1 0h1m3 0h1m2 0h1m12 0h1m23 0h1m18 0h1m1 0h1m2 0h2m3 0h39m1 0h1m1 0h1m2 0h1m144 0h1m5 0h4m1 0h2m1 0h5m2 0h2m1 0h1m2 0h1m3 0h1M51 322.5h2m2 0h1m2 0h1m8 0h1m6 0h1m3 0h1m1 0h1m9 0h1m4 0h1m2 0h1m7 0h3m2 0h2m2 0h1m2 0h1m3 0h1m4 0h1m1 0h2m6 0h1m1 0h39m1 0h1m9 0h1m134 0h1m2 0h5m3 0h1m1 0h1m1 0h6m1 0h3m2 0h2m3 0h1M46 323.5h2m1 0h1m5 0h1m3 0h1m5 0h1m1 0h1m1 0h1m5 0h1m1 0h3m3 0h2m21 0h1m1 0h1m3 0h1m2 0h1m8 0h1m2 0h2m3 0h1m2 0h2m4 0h38m1 0h1m2 0h1m1 0h2m142 0h2m1 0h2m1 0h1m1 0h9m1 0h2m1 0h2m2 0h1M46 324.5h1m4 0h1m3 0h6m9 0h1m1 0h1m11 0h1m1 0h1m1 0h2m1 0h1m3 0h1m1 0h1m6 0h1m1 0h1m2 0h2m3 0h1m2 0h1m7 0h1m2 0h1m2 0h1m3 0h1m1 0h1m1 0h38m1 0h4m2 0h1m1 0h1m140 0h24m10 0h1M49 325.5h1m4 0h3m3 0h3m1 0h4m4 0h1m4 0h1m5 0h1m5 0h1m1 0h4m6 0h1m1 0h1m2 0h1m1 0h1m4 0h1m6 0h2m1 0h1m1 0h1m2 0h2m1 0h1m1 0h2m1 0h46m2 0h1m2 0h2m138 0h15m1 0h2m1 0h7m1 0h1M49 326.5h1m1 0h2m1 0h3m1 0h6m1 0h1m1 0h1m2 0h2m3 0h1m16 0h1m1 0h1m5 0h1m1 0h1m2 0h1m8 0h3m10 0h3m2 0h1m1 0h2m2 0h2m1 0h41m3 0h1m141 0h13m1 0h2m1 0h1m1 0h3m1 0h1M46 327.5h2m4 0h2m2 0h1m1 0h5m2 0h1m3 0h3m1 0h1m1 0h2m2 0h1m5 0h1m3 0h2m5 0h1m1 0h3m2 0h2m1 0h1m2 0h2m1 0h1m2 0h1m5 0h2m2 0h2m2 0h1m1 0h2m1 0h4m1 0h40m1 0h3m1 0h1m2 0h2m138 0h14m1 0h2m2 0h6M46 328.5h1m1 0h1m2 0h3m1 0h2m1 0h6m1 0h1m2 0h3m5 0h2m3 0h1m3 0h1m1 0h1m1 0h1m3 0h2m2 0h2m2 0h1m1 0h1m2 0h1m2 0h1m6 0h1m2 0h1m6 0h2m1 0h1m1 0h1m2 0h1m1 0h3m1 0h42m1 0h2m4 0h1m137 0h24m6 0h1m5 0h1M46 329.5h1m1 0h3m1 0h1m4 0h5m1 0h3m7 0h1m1 0h2m1 0h1m4 0h1m4 0h1m7 0h1m1 0h1m4 0h2m9 0h3m2 0h1m2 0h2m1 0h1m4 0h7m1 0h1m2 0h41m2 0h1m5 0h1m136 0h16m1 0h2m1 0h5m1 0h1M51 330.5h4m1 0h3m4 0h3m4 0h1m1 0h1m1 0h2m2 0h1m5 0h1m2 0h2m1 0h1m3 0h1m4 0h1m3 0h1m2 0h1m2 0h1m1 0h2m2 0h4m1 0h1m1 0h5m3 0h4m3 0h3m1 0h39m1 0h3m4 0h1m2 0h2m134 0h15m2 0h3m1 0h1m1 0h2M50 331.5h1m1 0h1m1 0h5m1 0h3m3 0h4m3 0h1m6 0h2m7 0h1m1 0h1m2 0h1m4 0h1m4 0h2m1 0h1m2 0h1m1 0h1m3 0h1m1 0h1m3 0h2m1 0h1m1 0h1m4 0h2m2 0h5m1 0h38m1 0h3m144 0h9m1 0h5m1 0h4m1 0h3m1 0h1m4 0h1M47 332.5h1m2 0h4m1 0h4m2 0h1m1 0h1m2 0h1m1 0h3m1 0h2m3 0h1m2 0h1m1 0h7m1 0h1m6 0h1m2 0h1m1 0h1m10 0h1m4 0h1m3 0h1m4 0h2m1 0h3m2 0h1m1 0h1m1 0h1m1 0h1m1 0h41m5 0h1m6 0h1m130 0h9m3 0h3m3 0h1m2 0h3m14 0h1M52 333.5h1m3 0h2m3 0h1m2 0h3m13 0h1m4 0h1m2 0h2m2 0h2m1 0h4m9 0h2m2 0h2m2 0h3m3 0h1m1 0h2m2 0h3m2 0h3m4 0h40m1 0h3m1 0h1m137 0h1m3 0h16m1 0h8m15 0h1M48 334.5h2m3 0h1m3 0h1m1 0h6m2 0h4m3 0h1m4 0h7m5 0h2m4 0h2m1 0h1m8 0h1m1 0h1m5 0h3m1 0h2m2 0h2m1 0h3m1 0h1m2 0h1m1 0h4m1 0h39m2 0h1m143 0h11m1 0h1m2 0h1m4 0h5m10 0h1M46 335.5h1m2 0h2m4 0h2m1 0h1m1 0h2m1 0h3m1 0h1m4 0h2m2 0h2m1 0h1m2 0h1m6 0h1m9 0h1m2 0h1m3 0h2m2 0h1m3 0h2m2 0h1m2 0h3m1 0h5m3 0h1m1 0h4m1 0h1m1 0h37m1 0h1m2 0h1m36 0h1m106 0h10m2 0h1m1 0h7m1 0h1M48 336.5h1m1 0h1m1 0h1m3 0h3m1 0h2m1 0h4m1 0h1m1 0h1m1 0h1m1 0h1m5 0h1m5 0h1m1 0h2m2 0h2m9 0h2m3 0h1m2 0h1m5 0h1m5 0h3m2 0h1m4 0h1m2 0h1m1 0h2m4 0h1m1 0h33m1 0h1m1 0h1m2 0h1m2 0h1m6 0h1m8 0h1m122 0h9m1 0h1m1 0h5m1 0h1m1 0h3m1 0h2M46 337.5h1m1 0h1m1 0h1m1 0h1m1 0h1m2 0h4m2 0h1m2 0h3m1 0h1m1 0h1m3 0h2m5 0h1m9 0h1m1 0h1m4 0h1m2 0h1m1 0h1m16 0h1m2 0h1m2 0h1m4 0h1m2 0h3m1 0h6m1 0h32m1 0h1m3 0h1m1 0h1m7 0h1m132 0h5m1 0h5m1 0h10m1 0h1M48 338.5h1m1 0h1m5 0h1m9 0h1m7 0h1m10 0h1m1 0h1m5 0h2m11 0h1m6 0h1m4 0h1m4 0h2m1 0h1m4 0h3m2 0h1m4 0h1m1 0h2m2 0h31m2 0h1m1 0h2m1 0h1m139 0h1m1 0h14m1 0h1m1 0h8m1 0h1M47 339.5h1m1 0h2m16 0h1m1 0h3m3 0h1m2 0h1m7 0h1m5 0h1m1 0h1m2 0h1m15 0h1m2 0h1m10 0h1m5 0h1m1 0h1m1 0h1m1 0h1m3 0h36m1 0h2m145 0h14m1 0h2m1 0h7m1 0h1m8 0h1M50 340.5h1m2 0h1m1 0h1m7 0h1m2 0h1m6 0h2m7 0h1m1 0h1m11 0h1m4 0h1m2 0h1m9 0h1m9 0h1m1 0h1m1 0h1m5 0h1m3 0h2m2 0h2m1 0h35m1 0h1m145 0h11m2 0h9m1 0h2m26 0h1M54 341.5h1m1 0h1m3 0h2m6 0h1m11 0h1m18 0h1m10 0h1m3 0h1m5 0h1m8 0h1m2 0h2m2 0h1m2 0h1m2 0h1m2 0h1m1 0h32m145 0h1m2 0h14m1 0h1m1 0h1m1 0h5m1 0h3M49 342.5h1m7 0h1m1 0h1m13 0h2m2 0h1m16 0h1m3 0h1m5 0h1m30 0h1m1 0h4m2 0h1m2 0h32m148 0h5m1 0h7m1 0h4m1 0h1m1 0h1m1 0h3m7 0h1M50 343.5h1m14 0h1m29 0h1m9 0h1m5 0h1m22 0h1m12 0h33m4 0h1m140 0h1m1 0h11m1 0h13M47 344.5h1m21 0h1m4 0h1m2 0h1m40 0h1m22 0h2m1 0h2m2 0h1m1 0h25m1 0h1m2 0h2m146 0h11m3 0h2m2 0h3m1 0h1m2 0h1m4 0h1M51 345.5h1m73 0h1m7 0h1m11 0h1m2 0h1m1 0h26m6 0h1m144 0h3m1 0h12m1 0h1m2 0h5M122 346.5h1m2 0h1m14 0h2m1 0h1m1 0h2m4 0h23m153 0h11m1 0h1m1 0h6m2 0h1m1 0h2M74 347.5h1m58 0h1m4 0h1m3 0h1m3 0h1m1 0h24m1 0h5m149 0h10m1 0h2m1 0h2m2 0h3m1 0h3m4 0h1m3 0h1M89 348.5h1m6 0h1m1 0h1m10 0h1m19 0h1m1 0h1m5 0h1m5 0h1m5 0h2m1 0h20m3 0h1m1 0h2m148 0h5m1 0h13m1 0h5M115 349.5h1m15 0h1m5 0h1m5 0h1m1 0h1m3 0h22m1 0h2m3 0h1m2 0h1m4 0h1m1 0h2m135 0h1m2 0h10m1 0h6m2 0h3m1 0h2M138 350.5h1m7 0h2m1 0h1m1 0h17m1 0h1m1 0h3m2 0h1m150 0h11m1 0h1m1 0h4m1 0h2m1 0h3m2 0h1M123 351.5h1m19 0h2m1 0h1m3 0h14m1 0h2m4 0h2m154 0h24" stroke="#000" stroke-width="1" fill="none" shape-rendering="crispEdges"/>
<rect x="45.3" y="12.2" width="189.3" height="139.8" fill="none" stroke="#000" stroke-width="1.40"/>
<rect x="56.2" y="122.3" width="171.1" height="29.7" fill="none" stroke="#000" stroke-width="1.3"/>
<text transform="translate(208.7 136.5)" font-size="13.0" text-anchor="middle" font-weight="bold" stroke="#fff" stroke-width="1.5" stroke-linejoin="round">R1</text>
<text transform="translate(208.7 136.5)" font-size="13.0" text-anchor="middle" font-weight="bold" >R1</text>
<path d="M45.3 152.0h-5.5M45.3 141.5h-3.2M45.3 135.3h-3.2M45.3 131.0h-3.2M45.3 127.6h-3.2M45.3 124.8h-3.2M45.3 122.5h-3.2M45.3 120.4h-3.2M45.3 118.6h-3.2M45.3 117.0h-5.5M45.3 106.5h-3.2M45.3 100.4h-3.2M45.3 96.0h-3.2M45.3 92.6h-3.2M45.3 89.9h-3.2M45.3 87.5h-3.2M45.3 85.5h-3.2M45.3 83.7h-3.2M45.3 82.1h-5.5M45.3 71.6h-3.2M45.3 65.4h-3.2M45.3 61.1h-3.2M45.3 57.7h-3.2M45.3 54.9h-3.2M45.3 52.6h-3.2M45.3 50.5h-3.2M45.3 48.7h-3.2M45.3 47.1h-5.5M45.3 36.6h-3.2M45.3 30.5h-3.2M45.3 26.1h-3.2M45.3 22.7h-3.2M45.3 20.0h-3.2M45.3 17.6h-3.2M45.3 15.6h-3.2M45.3 13.8h-3.2M45.3 12.2h-5.5" stroke="#000" stroke-width="1.1" fill="none"/>
<g transform="translate(40.4 149.0) rotate(-90)"><text x="0" y="0" font-size="14" font-weight="bold" text-anchor="middle">10</text><text x="7.4" y="-4.3" font-size="9.7" font-weight="bold" text-anchor="start">0</text></g>
<g transform="translate(40.4 118.0) rotate(-90)"><text x="0" y="0" font-size="14" font-weight="bold" text-anchor="middle">10</text><text x="7.4" y="-4.3" font-size="9.7" font-weight="bold" text-anchor="start">1</text></g>
<g transform="translate(40.4 83.1) rotate(-90)"><text x="0" y="0" font-size="14" font-weight="bold" text-anchor="middle">10</text><text x="7.4" y="-4.3" font-size="9.7" font-weight="bold" text-anchor="start">2</text></g>
<g transform="translate(40.4 48.1) rotate(-90)"><text x="0" y="0" font-size="14" font-weight="bold" text-anchor="middle">10</text><text x="7.4" y="-4.3" font-size="9.7" font-weight="bold" text-anchor="start">3</text></g>
<g transform="translate(40.4 13.2) rotate(-90)"><text x="0" y="0" font-size="14" font-weight="bold" text-anchor="middle">10</text><text x="7.4" y="-4.3" font-size="9.7" font-weight="bold" text-anchor="start">4</text></g>
<path d="M45.3 152.0v4.0M52.7 152.0v2.8M60.1 152.0v2.8M67.5 152.0v2.8M74.9 152.0v2.8M82.3 152.0v4.0M89.7 152.0v2.8M97.1 152.0v2.8M104.5 152.0v2.8M111.9 152.0v2.8M119.2 152.0v4.0M126.6 152.0v2.8M134.0 152.0v2.8M141.4 152.0v2.8M148.8 152.0v2.8M156.2 152.0v4.0M163.6 152.0v2.8M171.0 152.0v2.8M178.4 152.0v2.8M185.8 152.0v2.8M193.2 152.0v4.0M200.6 152.0v2.8M208.0 152.0v2.8M215.4 152.0v2.8M222.8 152.0v2.8M230.2 152.0v4.0" stroke="#000" stroke-width="1.2" fill="none"/>
<text transform="translate(44.8 167.5) scale(0.885 1)" font-size="15.5" text-anchor="middle" font-weight="bold" >0</text>
<text transform="translate(81.8 167.5) scale(0.885 1)" font-size="15.5" text-anchor="middle" font-weight="bold" >50</text>
<text transform="translate(118.7 167.5) scale(0.885 1)" font-size="15.5" text-anchor="middle" font-weight="bold" >100</text>
<text transform="translate(155.7 167.5) scale(0.885 1)" font-size="15.5" text-anchor="middle" font-weight="bold" >150</text>
<text transform="translate(192.7 167.5) scale(0.885 1)" font-size="15.5" text-anchor="middle" font-weight="bold" >200</text>
<text transform="translate(229.7 167.5) scale(0.885 1)" font-size="15.5" text-anchor="middle" font-weight="bold" >250</text>
<text transform="translate(217.8 35.0)" font-size="17.0" text-anchor="middle" font-weight="bold" >A</text>
<text transform="translate(13.3 70.2) rotate(-90)" font-size="16.6" text-anchor="middle" font-weight="bold" >PI</text>
<text transform="translate(138.0 186.0)" font-size="16.8" text-anchor="middle" font-weight="bold" >FSC</text>
<rect x="323.2" y="12.4" width="188.6" height="139.6" fill="none" stroke="#000" stroke-width="1.40"/>
<path d="M334.5 152.0V20.3H506.8V152.0" fill="none" stroke="#000" stroke-width="1.4"/>
<path d="M365 125.8L499.8 109.3V152.0" fill="none" stroke="#000" stroke-width="1.3"/>
<text transform="translate(355.2 67.3)" font-size="13.0" text-anchor="middle" font-weight="bold" >R3</text>
<text transform="translate(488.7 133.0)" font-size="13.0" text-anchor="middle" font-weight="bold" >R2</text>
<path d="M323.2 152.0h-6.0M323.2 149.3h-3.0M323.2 146.5h-3.0M323.2 143.8h-3.0M323.2 141.1h-3.0M323.2 138.4h-3.0M323.2 135.6h-3.0M323.2 132.9h-3.0M323.2 130.2h-3.0M323.2 127.5h-3.0M323.2 124.7h-6.0M323.2 122.0h-3.0M323.2 119.3h-3.0M323.2 116.6h-3.0M323.2 113.8h-3.0M323.2 111.1h-3.0M323.2 108.4h-3.0M323.2 105.6h-3.0M323.2 102.9h-3.0M323.2 100.2h-3.0M323.2 97.5h-6.0M323.2 94.7h-3.0M323.2 92.0h-3.0M323.2 89.3h-3.0M323.2 86.6h-3.0M323.2 83.8h-3.0M323.2 81.1h-3.0M323.2 78.4h-3.0M323.2 75.7h-3.0M323.2 72.9h-3.0M323.2 70.2h-6.0M323.2 67.5h-3.0M323.2 64.8h-3.0M323.2 62.0h-3.0M323.2 59.3h-3.0M323.2 56.6h-3.0M323.2 53.8h-3.0M323.2 51.1h-3.0M323.2 48.4h-3.0M323.2 45.7h-3.0M323.2 42.9h-6.0M323.2 40.2h-3.0M323.2 37.5h-3.0M323.2 34.8h-3.0M323.2 32.0h-3.0M323.2 29.3h-3.0M323.2 26.6h-3.0M323.2 23.9h-3.0M323.2 21.1h-3.0M323.2 18.4h-3.0M323.2 15.7h-6.0" stroke="#000" stroke-width="1.0" fill="none"/>
<text transform="translate(316.5 150.8) rotate(-90) scale(0.840 1)" font-size="14.0" text-anchor="middle" font-weight="bold" >0</text>
<text transform="translate(316.5 123.5) rotate(-90) scale(0.840 1)" font-size="14.0" text-anchor="middle" font-weight="bold" >50</text>
<text transform="translate(316.5 96.3) rotate(-90) scale(0.840 1)" font-size="14.0" text-anchor="middle" font-weight="bold" >100</text>
<text transform="translate(316.5 69.0) rotate(-90) scale(0.840 1)" font-size="14.0" text-anchor="middle" font-weight="bold" >150</text>
<text transform="translate(316.5 41.7) rotate(-90) scale(0.840 1)" font-size="14.0" text-anchor="middle" font-weight="bold" >200</text>
<text transform="translate(316.5 14.5) rotate(-90) scale(0.840 1)" font-size="14.0" text-anchor="middle" font-weight="bold" >250</text>
<path d="M323.2 152.0v4.0M330.6 152.0v2.8M337.9 152.0v2.8M345.3 152.0v2.8M352.7 152.0v2.8M360.0 152.0v4.0M367.4 152.0v2.8M374.8 152.0v2.8M382.1 152.0v2.8M389.5 152.0v2.8M396.9 152.0v4.0M404.2 152.0v2.8M411.6 152.0v2.8M419.0 152.0v2.8M426.3 152.0v2.8M433.7 152.0v4.0M441.1 152.0v2.8M448.4 152.0v2.8M455.8 152.0v2.8M463.2 152.0v2.8M470.5 152.0v4.0M477.9 152.0v2.8M485.3 152.0v2.8M492.6 152.0v2.8M500.0 152.0v2.8M507.4 152.0v4.0" stroke="#000" stroke-width="1.2" fill="none"/>
<text transform="translate(322.7 167.5) scale(0.885 1)" font-size="15.5" text-anchor="middle" font-weight="bold" >0</text>
<text transform="translate(359.5 167.5) scale(0.885 1)" font-size="15.5" text-anchor="middle" font-weight="bold" >50</text>
<text transform="translate(396.4 167.5) scale(0.885 1)" font-size="15.5" text-anchor="middle" font-weight="bold" >100</text>
<text transform="translate(433.2 167.5) scale(0.885 1)" font-size="15.5" text-anchor="middle" font-weight="bold" >150</text>
<text transform="translate(470.0 167.5) scale(0.885 1)" font-size="15.5" text-anchor="middle" font-weight="bold" >200</text>
<text transform="translate(506.9 167.5) scale(0.885 1)" font-size="15.5" text-anchor="middle" font-weight="bold" >250</text>
<text transform="translate(493.2 34.8)" font-size="16.5" text-anchor="middle" font-weight="bold" stroke="#fff" stroke-width="2" stroke-linejoin="round">B</text>
<text transform="translate(493.2 34.8)" font-size="16.5" text-anchor="middle" font-weight="bold" >B</text>
<text transform="translate(294.2 71.0) rotate(-90)" font-size="16.8" text-anchor="middle" font-weight="bold" >SSC</text>
<text transform="translate(418.0 186.3)" font-size="16.8" text-anchor="middle" font-weight="bold" >FSC</text>
<rect x="45.3" y="213.0" width="189.3" height="139.0" fill="none" stroke="#000" stroke-width="1.40"/>
<path d="M45.3 273.4H142.8V213.0" fill="none" stroke="#000" stroke-width="1.4"/>
<path d="M77 352.0V274.6H160.5V322" fill="none" stroke="#000" stroke-width="1.4"/>
<text transform="translate(123.0 230.0)" font-size="13.0" text-anchor="middle" font-weight="bold" >R4</text>
<text transform="translate(123.0 293.2)" font-size="13.0" text-anchor="middle" font-weight="bold" stroke="#fff" stroke-width="2" stroke-linejoin="round">R5</text>
<text transform="translate(123.0 293.2)" font-size="13.0" text-anchor="middle" font-weight="bold" >R5</text>
<path d="M45.3 352.0h-5.5M45.3 341.5h-3.2M45.3 335.4h-3.2M45.3 331.1h-3.2M45.3 327.7h-3.2M45.3 325.0h-3.2M45.3 322.6h-3.2M45.3 320.6h-3.2M45.3 318.8h-3.2M45.3 317.2h-5.5M45.3 306.8h-3.2M45.3 300.7h-3.2M45.3 296.3h-3.2M45.3 293.0h-3.2M45.3 290.2h-3.2M45.3 287.9h-3.2M45.3 285.9h-3.2M45.3 284.1h-3.2M45.3 282.5h-5.5M45.3 272.0h-3.2M45.3 265.9h-3.2M45.3 261.6h-3.2M45.3 258.2h-3.2M45.3 255.5h-3.2M45.3 253.1h-3.2M45.3 251.1h-3.2M45.3 249.3h-3.2M45.3 247.8h-5.5M45.3 237.3h-3.2M45.3 231.2h-3.2M45.3 226.8h-3.2M45.3 223.5h-3.2M45.3 220.7h-3.2M45.3 218.4h-3.2M45.3 216.4h-3.2M45.3 214.6h-3.2M45.3 213.0h-5.5" stroke="#000" stroke-width="1.1" fill="none"/>
<g transform="translate(40.4 349.6) rotate(-90)"><text x="0" y="0" font-size="14" font-weight="bold" text-anchor="middle">10</text><text x="7.4" y="-4.3" font-size="9.7" font-weight="bold" text-anchor="start">0</text></g>
<g transform="translate(40.4 319.9) rotate(-90)"><text x="0" y="0" font-size="14" font-weight="bold" text-anchor="middle">10</text><text x="7.4" y="-4.3" font-size="9.7" font-weight="bold" text-anchor="start">1</text></g>
<g transform="translate(40.4 285.1) rotate(-90)"><text x="0" y="0" font-size="14" font-weight="bold" text-anchor="middle">10</text><text x="7.4" y="-4.3" font-size="9.7" font-weight="bold" text-anchor="start">2</text></g>
<g transform="translate(40.4 250.3) rotate(-90)"><text x="0" y="0" font-size="14" font-weight="bold" text-anchor="middle">10</text><text x="7.4" y="-4.3" font-size="9.7" font-weight="bold" text-anchor="start">3</text></g>
<g transform="translate(40.4 215.6) rotate(-90)"><text x="0" y="0" font-size="14" font-weight="bold" text-anchor="middle">10</text><text x="7.4" y="-4.3" font-size="9.7" font-weight="bold" text-anchor="start">4</text></g>
<path d="M45.3 352.0v4.2M59.5 352.0v2.8M67.9 352.0v2.8M73.8 352.0v2.8M78.4 352.0v2.8M82.1 352.0v2.8M85.3 352.0v2.8M88.0 352.0v2.8M90.5 352.0v2.8M92.6 352.0v4.2M106.9 352.0v2.8M115.2 352.0v2.8M121.1 352.0v2.8M125.7 352.0v2.8M129.5 352.0v2.8M132.6 352.0v2.8M135.4 352.0v2.8M137.8 352.0v2.8M139.9 352.0v4.2M154.2 352.0v2.8M162.5 352.0v2.8M168.4 352.0v2.8M173.0 352.0v2.8M176.8 352.0v2.8M179.9 352.0v2.8M182.7 352.0v2.8M185.1 352.0v2.8M187.3 352.0v4.2M201.5 352.0v2.8M209.9 352.0v2.8M215.8 352.0v2.8M220.4 352.0v2.8M224.1 352.0v2.8M227.3 352.0v2.8M230.0 352.0v2.8M232.4 352.0v2.8M234.6 352.0v4.2" stroke="#000" stroke-width="1.1" fill="none"/>
<g transform="translate(46.0 367.3)"><text x="0" y="0" font-size="14" font-weight="bold" text-anchor="middle">10</text><text x="7.4" y="-4.0" font-size="9.7" font-weight="bold" text-anchor="start">0</text></g>
<g transform="translate(93.3 367.3)"><text x="0" y="0" font-size="14" font-weight="bold" text-anchor="middle">10</text><text x="7.4" y="-4.0" font-size="9.7" font-weight="bold" text-anchor="start">1</text></g>
<g transform="translate(140.6 367.3)"><text x="0" y="0" font-size="14" font-weight="bold" text-anchor="middle">10</text><text x="7.4" y="-4.0" font-size="9.7" font-weight="bold" text-anchor="start">2</text></g>
<g transform="translate(188.0 367.3)"><text x="0" y="0" font-size="14" font-weight="bold" text-anchor="middle">10</text><text x="7.4" y="-4.0" font-size="9.7" font-weight="bold" text-anchor="start">3</text></g>
<g transform="translate(235.3 367.3)"><text x="0" y="0" font-size="14" font-weight="bold" text-anchor="middle">10</text><text x="7.4" y="-4.0" font-size="9.7" font-weight="bold" text-anchor="start">4</text></g>
<text transform="translate(217.6 236.0)" font-size="17.0" text-anchor="middle" font-weight="bold" >C</text>
<text transform="translate(22.6 283.2) rotate(-90)" font-size="15.5" text-anchor="middle" font-weight="bold" >CD71/ Glyco-A-PE</text>
<text transform="translate(137.5 389.7) scale(1.050 1)" font-size="15.5" text-anchor="middle" font-weight="bold" >CD45-FITC</text>
<rect x="322.8" y="213.0" width="189.0" height="139.0" fill="none" stroke="#000" stroke-width="1.40"/>
<rect x="322.8" y="214.8" width="27.4" height="102.8" fill="none" stroke="#000" stroke-width="1.3"/>
<path d="M350.2 317.6L350.2 352.0" stroke="#000" stroke-width="1.30" fill="none"/>
<path d="M351.0 334.2L378.0 334.2" stroke="#000" stroke-width="1.30" fill="none"/>
<path d="M374.2 327.9L394.4 334.2L374.2 340.5Z" fill="#000"/>
<text transform="translate(336.4 238.8)" font-size="13.0" text-anchor="middle" font-weight="bold" >R6</text>
<text transform="translate(407.8 339.0)" font-size="13.0" text-anchor="middle" font-weight="bold" >R7</text>
<path d="M322.8 352.0h-5.5M322.8 341.5h-3.2M322.8 335.4h-3.2M322.8 331.1h-3.2M322.8 327.7h-3.2M322.8 325.0h-3.2M322.8 322.6h-3.2M322.8 320.6h-3.2M322.8 318.8h-3.2M322.8 317.2h-5.5M322.8 306.8h-3.2M322.8 300.7h-3.2M322.8 296.3h-3.2M322.8 293.0h-3.2M322.8 290.2h-3.2M322.8 287.9h-3.2M322.8 285.9h-3.2M322.8 284.1h-3.2M322.8 282.5h-5.5M322.8 272.0h-3.2M322.8 265.9h-3.2M322.8 261.6h-3.2M322.8 258.2h-3.2M322.8 255.5h-3.2M322.8 253.1h-3.2M322.8 251.1h-3.2M322.8 249.3h-3.2M322.8 247.8h-5.5M322.8 237.3h-3.2M322.8 231.2h-3.2M322.8 226.8h-3.2M322.8 223.5h-3.2M322.8 220.7h-3.2M322.8 218.4h-3.2M322.8 216.4h-3.2M322.8 214.6h-3.2M322.8 213.0h-5.5" stroke="#000" stroke-width="1.1" fill="none"/>
<g transform="translate(317.9 349.6) rotate(-90)"><text x="0" y="0" font-size="14" font-weight="bold" text-anchor="middle">10</text><text x="7.4" y="-4.3" font-size="9.7" font-weight="bold" text-anchor="start">0</text></g>
<g transform="translate(317.9 319.9) rotate(-90)"><text x="0" y="0" font-size="14" font-weight="bold" text-anchor="middle">10</text><text x="7.4" y="-4.3" font-size="9.7" font-weight="bold" text-anchor="start">1</text></g>
<g transform="translate(317.9 285.1) rotate(-90)"><text x="0" y="0" font-size="14" font-weight="bold" text-anchor="middle">10</text><text x="7.4" y="-4.3" font-size="9.7" font-weight="bold" text-anchor="start">2</text></g>
<g transform="translate(317.9 250.3) rotate(-90)"><text x="0" y="0" font-size="14" font-weight="bold" text-anchor="middle">10</text><text x="7.4" y="-4.3" font-size="9.7" font-weight="bold" text-anchor="start">3</text></g>
<g transform="translate(317.9 215.6) rotate(-90)"><text x="0" y="0" font-size="14" font-weight="bold" text-anchor="middle">10</text><text x="7.4" y="-4.3" font-size="9.7" font-weight="bold" text-anchor="start">4</text></g>
<path d="M322.8 352.0v4.0M330.2 352.0v2.8M337.6 352.0v2.8M344.9 352.0v2.8M352.3 352.0v2.8M359.7 352.0v4.0M367.1 352.0v2.8M374.5 352.0v2.8M381.9 352.0v2.8M389.2 352.0v2.8M396.6 352.0v4.0M404.0 352.0v2.8M411.4 352.0v2.8M418.8 352.0v2.8M426.2 352.0v2.8M433.5 352.0v4.0M440.9 352.0v2.8M448.3 352.0v2.8M455.7 352.0v2.8M463.1 352.0v2.8M470.5 352.0v4.0M477.8 352.0v2.8M485.2 352.0v2.8M492.6 352.0v2.8M500.0 352.0v2.8M507.4 352.0v4.0" stroke="#000" stroke-width="1.2" fill="none"/>
<text transform="translate(322.3 367.5) scale(0.885 1)" font-size="15.5" text-anchor="middle" font-weight="bold" >0</text>
<text transform="translate(359.2 367.5) scale(0.885 1)" font-size="15.5" text-anchor="middle" font-weight="bold" >50</text>
<text transform="translate(396.1 367.5) scale(0.885 1)" font-size="15.5" text-anchor="middle" font-weight="bold" >100</text>
<text transform="translate(433.0 367.5) scale(0.885 1)" font-size="15.5" text-anchor="middle" font-weight="bold" >150</text>
<text transform="translate(470.0 367.5) scale(0.885 1)" font-size="15.5" text-anchor="middle" font-weight="bold" >200</text>
<text transform="translate(506.9 367.5) scale(0.885 1)" font-size="15.5" text-anchor="middle" font-weight="bold" >250</text>
<text transform="translate(492.8 235.8)" font-size="16.5" text-anchor="middle" font-weight="bold" >D</text>
<text transform="translate(290.5 284.7) rotate(-90)" font-size="16.0" text-anchor="middle" font-weight="bold" >CD34-CY5</text>
<text transform="translate(417.7 392.3)" font-size="16.8" text-anchor="middle" font-weight="bold" >SSC</text></svg></body></html>
